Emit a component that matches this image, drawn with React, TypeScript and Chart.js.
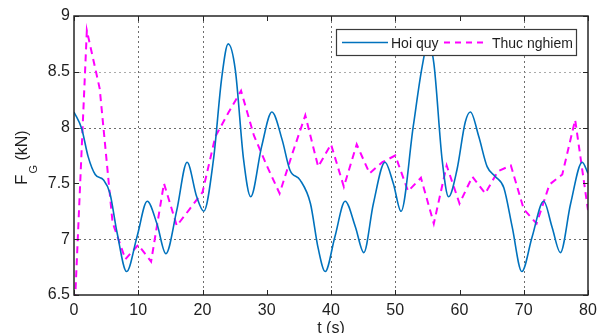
import React, { useEffect, useRef } from "react";
import { Chart, registerables } from "chart.js";

Chart.register(...registerables);

// "Hoi quy" (regression) curve: time (s) and force (kN)
const regressionT = [
  0, 1.2, 2.2, 3.3, 4.6, 5.6, 6.7, 8.2, 9.8, 11.4, 12.9, 14.3, 16.0, 17.6, 19.1,
  20.2, 21.7, 23.0, 24.0, 25.1, 26.4, 27.5, 29.2, 30.8, 32.4, 33.6, 35.2, 36.8,
  38.0, 39.1, 40.6, 42.2, 43.8, 45.1, 46.6, 48.4, 49.7, 50.9, 52.8, 54.2, 55.1,
  56.0, 57.3, 58.3, 59.6, 60.9, 61.7, 63.0, 64.3, 65.6, 66.9, 68.2, 69.7, 71.3,
  73.1, 74.4, 75.7, 77.3, 79.1, 80,
];
const regressionF = [
  8.14, 7.99, 7.74, 7.58, 7.53, 7.41, 7.06, 6.71, 7.02, 7.34, 7.14, 6.87, 7.26,
  7.69, 7.38, 7.25, 7.71, 8.45, 8.75, 8.52, 7.71, 7.38, 7.83, 8.14, 7.89, 7.62,
  7.53, 7.32, 6.92, 6.71, 7.02, 7.34, 7.11, 6.88, 7.32, 7.69, 7.5, 7.25, 8.01,
  8.55, 8.76, 8.58, 7.71, 7.38, 7.62, 8.05, 8.14, 7.92, 7.65, 7.56, 7.46, 7.11,
  6.71, 7.02, 7.34, 7.11, 6.88, 7.32, 7.69, 7.59,
];

// "Thuc nghiem" (experimental) measurements
const experimentT = [
  0, 2, 4, 6, 8, 10, 12, 14, 16, 18, 20, 22, 24, 26, 28, 30, 32, 34, 36, 38, 40,
  42, 44, 46, 48, 50, 52, 54, 56, 58, 60, 62, 64, 66, 68, 70, 72, 74, 76, 78, 80,
];
const experimentF = [
  6.23, 8.87, 8.35, 7.15, 6.82, 6.95, 6.8, 7.5, 7.12, 7.27, 7.42, 7.92, 8.13,
  8.33, 7.93, 7.66, 7.41, 7.77, 8.11, 7.65, 7.85, 7.47, 7.85, 7.59, 7.69, 7.75,
  7.43, 7.55, 7.14, 7.66, 7.32, 7.56, 7.41, 7.61, 7.66, 7.27, 7.14, 7.49, 7.58,
  8.07, 7.26,
];

const xTickValues = [0, 10, 20, 30, 40, 50, 60, 70, 80];
const yTickValues = [6.5, 7, 7.5, 8, 8.5, 9];
const xGridHidden = [30, 60];
const yGridHidden = [7.5];
const yGridLight = [8.5];
const seriesLabels = ["Hoi quy", "Thuc nghiem"];
const xAxisTitle = "t (s)";
const yAxisTitleParts = ["F", "G", " (kN)"];

const FONT = '"Liberation Sans", Arial, Helvetica, sans-serif';
const BLUE = "#0072BD";
const MAGENTA = "#FF00FF";
const AXIS = "#262626";
const TEXT = "#1e1e1e";

const decorPlugin = {
  id: "matlabDecor",
  beforeDatasetsDraw(chart: any) {
    const { ctx, chartArea: a, scales } = chart;
    const xs = scales.x;
    const ys = scales.y;
    ctx.save();
    ctx.lineWidth = 1;
    ctx.setLineDash([2, 3]);
    for (const v of xTickValues) {
      if (v === xs.min || v === xs.max || xGridHidden.includes(v)) continue;
      const px = Math.round(xs.getPixelForValue(v)) + 0.5;
      ctx.strokeStyle = "rgba(60,60,60,0.75)";
      ctx.beginPath();
      ctx.moveTo(px, a.top);
      ctx.lineTo(px, a.bottom);
      ctx.stroke();
    }
    for (const v of yTickValues) {
      if (v === ys.min || v === ys.max || yGridHidden.includes(v)) continue;
      const py = Math.round(ys.getPixelForValue(v)) + 0.5;
      ctx.strokeStyle = yGridLight.includes(v)
        ? "rgba(150,150,150,0.8)"
        : "rgba(60,60,60,0.75)";
      ctx.beginPath();
      ctx.moveTo(a.left, py);
      ctx.lineTo(a.right, py);
      ctx.stroke();
    }
    ctx.restore();
  },
  afterDatasetsDraw(chart: any) {
    const { ctx, chartArea: a, scales } = chart;
    const xs = scales.x;
    const ys = scales.y;
    ctx.save();
    ctx.setLineDash([]);
    // inward ticks
    ctx.strokeStyle = AXIS;
    ctx.lineWidth = 1;
    const tl = 5;
    for (const v of xTickValues) {
      const px = Math.round(xs.getPixelForValue(v)) + 0.5;
      ctx.beginPath();
      ctx.moveTo(px, a.bottom);
      ctx.lineTo(px, a.bottom - tl);
      ctx.moveTo(px, a.top);
      ctx.lineTo(px, a.top + tl);
      ctx.stroke();
    }
    for (const v of yTickValues) {
      const py = Math.round(ys.getPixelForValue(v)) + 0.5;
      ctx.beginPath();
      ctx.moveTo(a.left, py);
      ctx.lineTo(a.left + tl, py);
      ctx.moveTo(a.right, py);
      ctx.lineTo(a.right - tl, py);
      ctx.stroke();
    }
    // box
    ctx.lineWidth = 1.5;
    ctx.strokeRect(a.left, a.top, a.right - a.left, a.bottom - a.top);

    // legend
    const lx = a.right - 252;
    const ly = a.top + 13;
    const lw = 240;
    const lh = 26;
    ctx.fillStyle = "#ffffff";
    ctx.fillRect(lx, ly, lw, lh);
    ctx.lineWidth = 1.2;
    ctx.strokeStyle = "#3a3a3a";
    ctx.strokeRect(lx + 0.5, ly + 0.5, lw, lh);
    const my = ly + 13.5;
    ctx.lineWidth = 1.6;
    ctx.strokeStyle = BLUE;
    ctx.beginPath();
    ctx.moveTo(lx + 6, my);
    ctx.lineTo(lx + 52, my);
    ctx.stroke();
    ctx.font = `14px ${FONT}`;
    ctx.fillStyle = TEXT;
    ctx.textBaseline = "alphabetic";
    ctx.textAlign = "left";
    ctx.fillText(seriesLabels[0], lx + 55, ly + 18.5);
    ctx.strokeStyle = MAGENTA;
    ctx.lineWidth = 2;
    ctx.setLineDash([6, 5]);
    ctx.beginPath();
    ctx.moveTo(lx + 108, my);
    ctx.lineTo(lx + 151, my);
    ctx.stroke();
    ctx.setLineDash([]);
    ctx.fillText(seriesLabels[1], lx + 156, ly + 18.5);

    // y axis title with subscript
    ctx.translate(27, (a.top + a.bottom) / 2 + 0.5);
    ctx.rotate(-Math.PI / 2);
    ctx.fillStyle = TEXT;
    ctx.font = `17px ${FONT}`;
    let cx = -29;
    ctx.fillText(yAxisTitleParts[0], cx, 0);
    cx += ctx.measureText(yAxisTitleParts[0]).width + 1;
    ctx.font = `11px ${FONT}`;
    ctx.fillText(yAxisTitleParts[1], cx, 9.5);
    cx += ctx.measureText(yAxisTitleParts[1]).width;
    ctx.font = `16px ${FONT}`;
    ctx.fillText(yAxisTitleParts[2], cx, 0);
    ctx.restore();
  },
};

export default function App() {
  const canvasRef = useRef<HTMLCanvasElement | null>(null);

  useEffect(() => {
    document.body.style.margin = "0";
    const canvas = canvasRef.current;
    if (!canvas) return;
    const chart = new Chart(canvas, {
      type: "line",
      data: {
        datasets: [
          {
            label: seriesLabels[0],
            data: regressionT.map((t, i) => ({ x: t, y: regressionF[i] })),
            borderColor: BLUE,
            backgroundColor: BLUE,
            borderWidth: 1.6,
            pointRadius: 0,
            cubicInterpolationMode: "monotone",
            fill: false,
          },
          {
            label: seriesLabels[1],
            data: experimentT.map((t, i) => ({ x: t, y: experimentF[i] })),
            borderColor: MAGENTA,
            backgroundColor: MAGENTA,
            borderWidth: 2,
            borderDash: [7, 5],
            pointRadius: 0,
            tension: 0,
            fill: false,
          },
        ],
      },
      options: {
        animation: false,
        responsive: false,
        devicePixelRatio: 1,
        layout: { padding: { left: 0, right: 16, top: 16, bottom: 0 } },
        plugins: {
          legend: { display: false },
          tooltip: { enabled: false },
        },
        scales: {
          x: {
            type: "linear",
            min: 0,
            max: 80,
            afterBuildTicks: (s: any) => {
              s.ticks = xTickValues.map((v) => ({ value: v }));
            },
            afterFit: (s: any) => {
              s.height = 38;
            },
            grid: { display: false, drawTicks: false },
            border: { display: false },
            ticks: {
              padding: 6,
              color: TEXT,
              font: { family: FONT, size: 16 },
              maxRotation: 0,
              autoSkip: false,
              callback: (v: any) => String(v),
            },
            title: {
              display: true,
              text: xAxisTitle,
              color: TEXT,
              font: { family: FONT, size: 16 },
              padding: { top: 0, bottom: -5 },
            },
          },
          y: {
            type: "linear",
            min: 6.5,
            max: 9,
            afterBuildTicks: (s: any) => {
              s.ticks = yTickValues.map((v) => ({ value: v }));
            },
            afterFit: (s: any) => {
              s.width = 74;
            },
            grid: { display: false, drawTicks: false },
            border: { display: false },
            ticks: {
              padding: 4,
              color: TEXT,
              font: { family: FONT, size: 16 },
              autoSkip: false,
              callback: (v: any) => String(v),
            },
          },
        },
      },
      plugins: [decorPlugin],
    } as any);
    return () => chart.destroy();
  }, []);

  return (
    <div style={{ width: 604, height: 333, position: "relative" }}>
      <canvas ref={canvasRef} width={604} height={333} />
    </div>
  );
}
